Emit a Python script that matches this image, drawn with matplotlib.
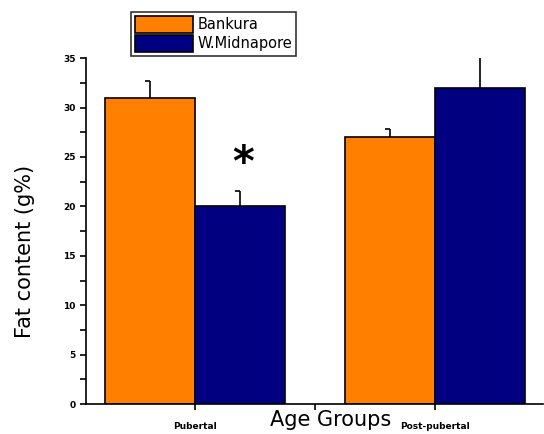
import matplotlib.pyplot as plt
import numpy as np

groups = ['Pubertal', 'Post-pubertal']
series = ['Bankura', 'W.Midnapore']
bankura = [31, 27]
bankura_err = [1.7, 0.8]
midnapore = [20, 32]
midnapore_err = [1.6, 3.0]
colors = ['#FF8000', '#000080']

fig = plt.figure(figsize=(5.44, 4.34), dpi=100)
ax = fig.add_axes([0.158, 0.069, 0.84, 0.797])

x = np.arange(1, len(groups) + 1)
w = 0.375
b1 = ax.bar(x - w / 2, bankura, w, color=colors[0], edgecolor='black', linewidth=1.2, label=series[0])
b2 = ax.bar(x + w / 2, midnapore, w, color=colors[1], edgecolor='black', linewidth=1.2, label=series[1])

# upward error bars with a short cap to the left
for xs, vals, errs in [(x - w / 2, bankura, bankura_err), (x + w / 2, midnapore, midnapore_err)]:
    for xi, v, e in zip(xs, vals, errs):
        ax.vlines(xi, v, v + e, color='black', linewidth=1.2, zorder=3, clip_on=False)
        if v + e < 35:
            ax.hlines(v + e, xi - 0.02, xi, color='black', linewidth=1.2, zorder=3)

ax.text(1 + w / 2 + 0.015, 24.3, '*', ha='center', va='center', fontsize=30, fontweight='bold')

ax.set_xlim(0.546, 2.45)
ax.set_ylim(0, 35)
ax.set_yticks(np.arange(0, 36, 5))
ax.set_yticks(np.arange(2.5, 35, 5), minor=True)
ax.set_xticks([1, 1.5, 2])
ax.set_xticklabels(['Pubertal', '', 'Post-pubertal'], fontsize=6.5, fontweight='bold')
ax.tick_params(axis='y', labelsize=6.5, width=1.2, length=4)
ax.tick_params(axis='y', which='minor', width=1.2, length=4)
ax.tick_params(axis='x', width=1.2, length=4, pad=9)
for lbl in ax.get_yticklabels():
    lbl.set_fontweight('bold')
ax.spines['top'].set_visible(False)
ax.spines['right'].set_visible(False)
ax.spines['left'].set_linewidth(1.2)
ax.spines['bottom'].set_linewidth(1.2)
ax.spines['left'].set_bounds(0, 35)

fig.text(0.046, 0.42, 'Fat content (g%)', rotation=90, ha='center', va='center', fontsize=15)
fig.text(0.607, 0.033, 'Age Groups', ha='center', va='center', fontsize=15)

leg = fig.legend(handles=[b1, b2], loc='upper left', bbox_to_anchor=(0.228, 0.988), fontsize=10.5,
                 frameon=True, fancybox=False, edgecolor='black', handlelength=4.0, handleheight=1.4,
                 borderpad=0.25, labelspacing=0.15, handletextpad=0.3)
leg.get_frame().set_linewidth(1.2)

fig.savefig('out.png', dpi=100)
